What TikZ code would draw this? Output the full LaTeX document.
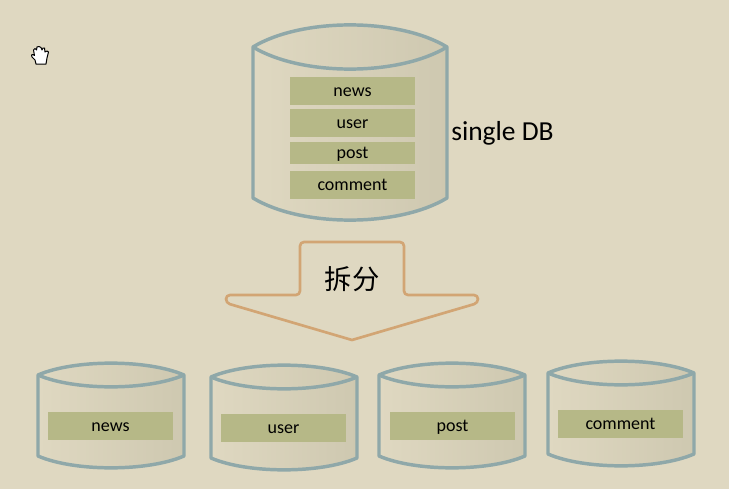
\documentclass[tikz,border=0pt]{standalone}
\usepackage{fontspec}
\setmainfont{Carlito}
\newfontfamily\cjk{Noto Sans CJK SC}
\definecolor{paper}{HTML}{DFD8C1}
\definecolor{cylshade}{HTML}{CEC8B0}
\definecolor{cylline}{HTML}{8FA8A9}
\definecolor{tablefill}{HTML}{B6B887}
\definecolor{arrowline}{HTML}{D2A574}
\tikzset{
  dbcyl/.pic={
    \filldraw[draw=cylline, line width=2.6pt, line join=round, left color=paper, right color=cylshade]
      (0,0) .. controls (0.25,-0.195) and (0.75,-0.195) .. (1,0)
      -- (1,1) .. controls (0.75,1.195) and (0.25,1.195) .. (0,1) -- cycle;
    \draw[cylline, line width=2.6pt]
      (0,0) .. controls (0.25,0.195) and (0.75,0.195) .. (1,0);
  },
  tablebox/.style={
    fill=tablefill,
    minimum width=93.75pt,
    inner sep=0pt,
    text=black,
    text height=11pt,
    text depth=2.2pt,
    font=\fontsize{13.5}{15}\selectfont
  },
  tall/.style={minimum height=21pt},
  short/.style={minimum height=16.5pt}
}
\begin{document}
\begin{tikzpicture}[x=0.75pt,y=-0.75pt]
  \useasboundingbox (0,0) rectangle (729,489);
  \fill[paper] (0,0) rectangle (729,489);
  % hand cursor
  \filldraw[fill=white, draw=black, line width=0.75pt, line join=round]
    (36,64) -- (35,60) -- (32,57) -- (31.5,55) -- (33,54.5) -- (34.5,55.5) -- (33.5,50) -- (35,48.5) -- (36.5,50)
    -- (37,47) -- (39,46.5) -- (41,47.5) -- (42,50) -- (43,48) -- (44.5,48) -- (45,52) -- (47,51) -- (48.5,52)
    -- (47,58) -- (46,64) -- cycle;
  % single DB
  \pic[xscale=194,yscale=151] at (253,47) {dbcyl};
  \node[tablebox,tall] (news) at (352.5,91) {news};
  \node[tablebox,tall] (user) at (352.5,123) {user};
  \node[tablebox,short] (post) at (352.5,153) {post};
  \node[tablebox,tall] (comment) at (352.5,185) {comment};
  \node[anchor=base west, inner sep=0pt, font=\fontsize{20.6}{22}\selectfont] (single) at (451,140) {single DB};
  % split arrow
  \draw[arrowline, line width=2pt] (352,340) [rounded corners=3pt]
    -- (226,303) -- (226,295) -- (300,295) -- (300,242) -- (404,242) -- (404,295)
    -- (478,295) -- (478,303) [sharp corners] -- cycle;
  \node[font=\cjk\fontsize{20.5}{22}\selectfont, inner sep=0pt] (split) at (352,279) {拆分};
  % split tables
  \pic[xscale=146,yscale=81] at (38,375) {dbcyl};
  \pic[xscale=146,yscale=81] at (211,377) {dbcyl};
  \pic[xscale=146,yscale=81] at (379,375) {dbcyl};
  \pic[xscale=146,yscale=81] at (548,373) {dbcyl};
  \node[tablebox,tall] (news2) at (110.5,426) {news};
  \node[tablebox,tall] (user2) at (283.5,428) {user};
  \node[tablebox,tall] (post2) at (452.5,426) {post};
  \node[tablebox,tall] (comment2) at (620.5,424) {comment};
\end{tikzpicture}
\end{document}
